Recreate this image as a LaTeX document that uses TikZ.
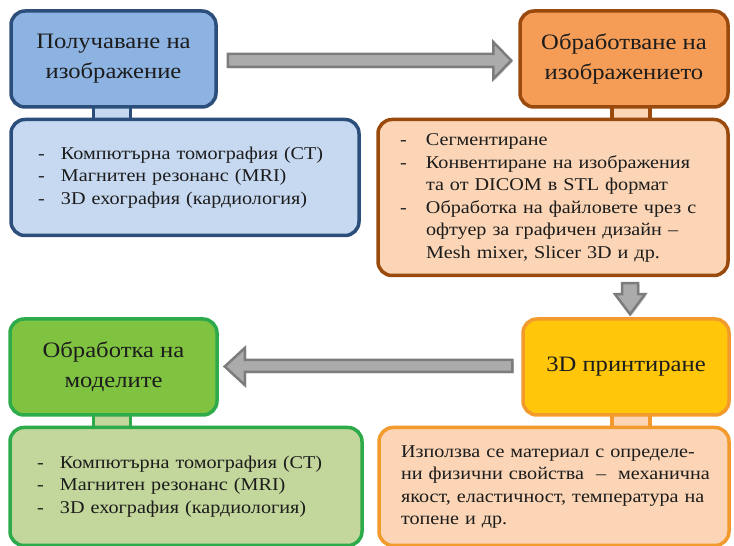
\documentclass[tikz,border=0pt]{standalone}
\usepackage{fontspec}
\setmainfont[FakeStretch=1.12]{Liberation Serif}
\usetikzlibrary{positioning,calc,shadows}
\pgfdeclarelayer{background}
\pgfsetlayers{background,main}

\definecolor{txt}{HTML}{1C1C1C}
\definecolor{blueD}{HTML}{2C4E7A}
\definecolor{blueT}{HTML}{8DB3E2}
\definecolor{blueS}{HTML}{C6D9F1}
\definecolor{orD}{HTML}{9A4A0C}
\definecolor{orT}{HTML}{F59D56}
\definecolor{orS}{HTML}{FBD5B5}
\definecolor{yeD}{HTML}{F39A2C}
\definecolor{yeT}{HTML}{FFC60A}
\definecolor{grD}{HTML}{2DAA4A}
\definecolor{grT}{HTML}{80C341}
\definecolor{grS}{HTML}{C3D69B}
\definecolor{arrF}{HTML}{ABABAB}
\definecolor{arrD}{HTML}{7C7C7C}

\begin{document}
\begin{tikzpicture}[
            x=1pt,y=1pt,
            box/.style={draw,rounded corners=14pt,line width=3.5pt,text=txt},
            head/.style={box,align=center,minimum width=205pt,minimum height=96pt,
                font=\fontsize{22}{30}\selectfont},
            list/.style={box,align=left,inner ysep=0pt,font=\fontsize{18}{22.5}\selectfont},
            tab/.style={line width=3.5pt},
            fatarrow/.style={fill=arrF,draw=arrD,line width=2.5pt,line join=miter,
                drop shadow={opacity=0.35,shadow xshift=1.5pt,shadow yshift=-1.5pt}}
        ]
        \useasboundingbox (0,0) rectangle (734,546);

        % Title boxes %
        \node[head,fill=blueT,draw=blueD] (t1) at (113.5,487) {Получаване на\\изображение};
        \node[head,fill=orT,draw=orD,minimum width=208pt] (t2) at (624,487) {Обработване на\\изображението};
        \node[head,fill=yeT,draw=yeD,minimum width=206pt] (t3) at (626,179) {3D принтиране};
        \node[head,fill=grT,draw=grD,minimum width=207pt] (t4) at (113.5,179) {Обработка на\\моделите};

        % Detail boxes %
        \node[list,fill=blueS,draw=blueD,minimum height=116pt,inner xsep=27pt,text width=294pt,
            below=9pt of t1.south west,anchor=north west] (s1) {%
            \begin{tabular}{@{}p{23pt}@{}l@{}}
            - & Компютърна томография (CT)\\
            - & Магнитен резонанс (MRI)\\
            - & 3D ехография (кардиология)
            \end{tabular}};
        \node[list,fill=orS,draw=orD,minimum height=156pt,inner xsep=22pt,text width=306pt,
            below=9pt of t2.south east,anchor=north east] (s2) {%
            \begin{tabular}{@{}p{26pt}@{}l@{}}
            - & Сегментиране\\
            - & Конвентиране на изображения\\
              & та от DICOM в STL формат\\
            - & Обработка на файловете чрез с\\
              & офтуер за графичен дизайн --\\
              & Mesh mixer, Slicer 3D и др.
            \end{tabular}};
        \node[list,fill=orS,draw=yeD,minimum height=118pt,inner xsep=22pt,text width=306pt,
            below=9pt of t3.south east,anchor=north east] (s3) {%
            \begin{tabular}{@{}l@{}}
            Използва се материал с определе-\\
            ни физични свойства~ --~ механична\\
            якост, еластичност, температура на\\
            топене и др.
            \end{tabular}};
        \node[list,fill=grS,draw=grD,minimum height=118pt,inner xsep=27pt,text width=298pt,
            below=9pt of t4.south west,anchor=north west] (s4) {%
            \begin{tabular}{@{}p{23pt}@{}l@{}}
            - & Компютърна томография (CT)\\
            - & Магнитен резонанс (MRI)\\
            - & 3D ехография (кардиология)
            \end{tabular}};

        % Draw tabs %
        \begin{pgfonlayer}{background}
            \draw[tab,fill=blueS,draw=blueD] ($(t1.south)+(-20,5)$) rectangle ($(s1.north -| t1.south)+(17,-5)$);
            \draw[tab,fill=orS,draw=orD] ($(t2.south)+(-12,5)$) rectangle ($(s2.north -| t2.south)+(26,-5)$);
            \draw[tab,fill=orS,draw=yeD] ($(t3.south)+(-14,5)$) rectangle ($(s3.north -| t3.south)+(24,-5)$);
            \draw[tab,fill=grS,draw=grD] ($(t4.south)+(-20,5)$) rectangle ($(s4.north -| t4.south)+(17,-5)$);
        \end{pgfonlayer}

        % Draw arrows %
        \draw[fatarrow] ($(t1.east)+(10,5)$) -- ($(t2.west)+(-25,5)$) -- ($(t2.west)+(-25,17)$)
            -- ($(t2.west)+(-7,-1.5)$) -- ($(t2.west)+(-25,-20)$) -- ($(t2.west)+(-25,-8)$)
            -- ($(t1.east)+(10,-8)$) -- cycle;
        \draw[fatarrow] ($(s2.south -| t3.north)+(-4,-6)$) -- ($(t3.north)+(-4,23)$) -- ($(t3.north)+(-11,23)$)
            -- ($(t3.north)+(4,3)$) -- ($(t3.north)+(19,23)$) -- ($(t3.north)+(12,23)$)
            -- ($(s2.south -| t3.north)+(12,-6)$) -- cycle;
        \draw[fatarrow] ($(t3.west)+(-9,7)$) -- ($(t4.east)+(26,7)$) -- ($(t4.east)+(26,19)$)
            -- ($(t4.east)+(6,0.5)$) -- ($(t4.east)+(26,-18)$) -- ($(t4.east)+(26,-5)$)
            -- ($(t3.west)+(-9,-5)$) -- cycle;
\end{tikzpicture}
\end{document}
